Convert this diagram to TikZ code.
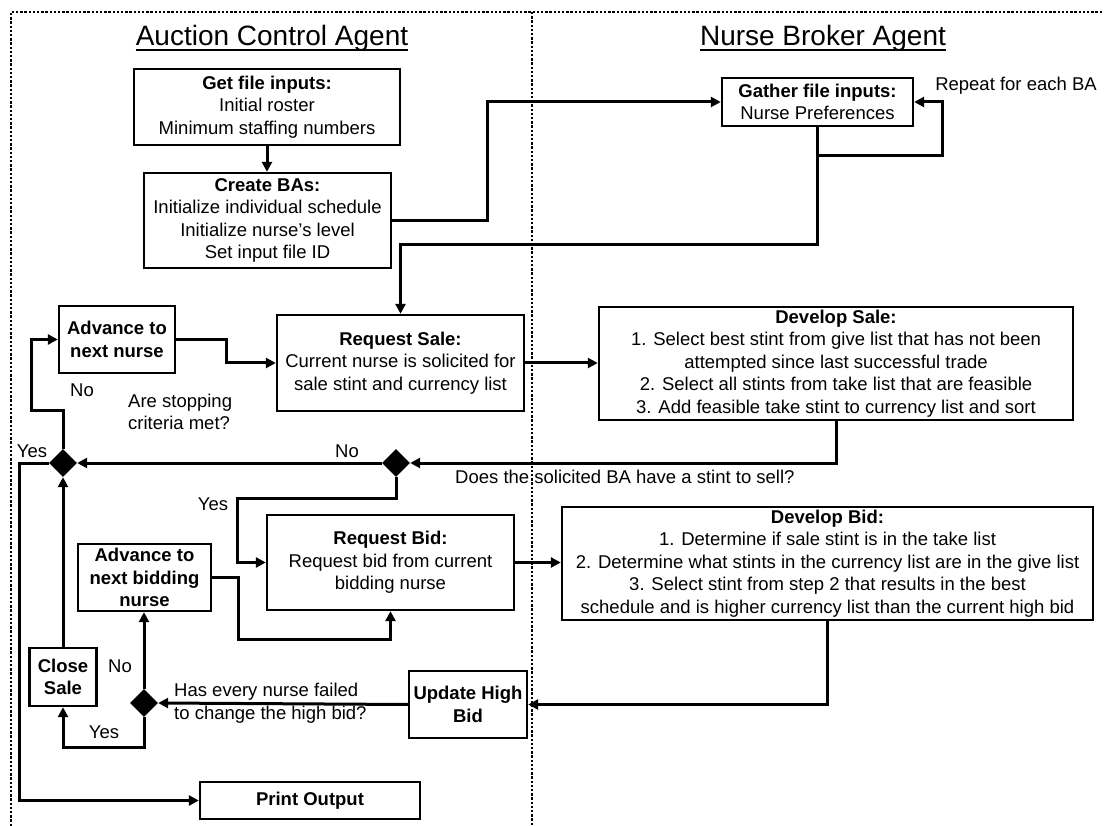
\documentclass[tikz,border=0pt]{standalone}
\usepackage{fontspec}
\setmainfont{Liberation Sans}
\usetikzlibrary{arrows.meta,shapes.geometric}
\newcommand\boxfont{\fontsize{18.5}{22.5}\selectfont}
\newcommand\headfont{\fontsize{28}{32}\selectfont}
\begin{document}
\begin{tikzpicture}[x=1pt,y=-1pt,
  box/.style={draw,line width=2.4pt,align=center,inner sep=0pt,font=\boxfont},
  lbl/.style={inner sep=0pt,font=\boxfont},
  diam/.style={diamond,fill=black,draw=none,minimum width=28pt,minimum height=28pt,inner sep=0pt},
  arr/.style={line width=3pt,line join=miter,-{Triangle[length=10pt,width=10pt]}},
  lane/.style={line width=2.6pt,dash pattern=on 2.4pt off 1.8pt}
]
\useasboundingbox (0,0) rectangle (1104,826);

% swimlane frame
\draw[lane] (11,826) -- (11,12) -- (1104,12);
\draw[lane] (532,12) -- (532,826);

% lane headings
\node[anchor=base,inner sep=0pt,font=\headfont] (ttlA) at (272,46) {Auction Control Agent};
\node[anchor=base,inner sep=0pt,font=\headfont] (ttlB) at (823,46) {Nurse Broker Agent};
\draw[line width=1.5pt] ([yshift=-4pt]ttlA.base west) -- ([yshift=-4pt]ttlA.base east);
\draw[line width=1.5pt] ([yshift=-4pt]ttlB.base west) -- ([yshift=-4pt]ttlB.base east);

% process boxes
\node[box,minimum width=266pt,minimum height=76pt] (getin) at (267,107)
  {\textbf{Get file inputs:}\\Initial roster\\Minimum staffing numbers};
\node[box,minimum width=247pt,minimum height=95pt] (create) at (267.5,220.5)
  {\textbf{Create BAs:}\\Initialize individual schedule\\Initialize nurse's level\\Set input file ID};
\node[box,minimum width=191pt,minimum height=48pt] (gather) at (817.5,102)
  {\textbf{Gather file inputs:}\\Nurse Preferences};
\node[box,minimum width=247pt,minimum height=96pt] (reqsale) at (400.5,363)
  {\textbf{Request Sale:}\\Current nurse is solicited for\\sale stint and currency list};
\node[box,minimum width=116pt,minimum height=67pt] (advnurse) at (117,339.5)
  {\textbf{Advance to}\\\textbf{next nurse}};
\node[box,minimum width=474pt,minimum height=113pt] (devsale) at (836,363.5)
  {\textbf{Develop Sale:}\\1. Select best stint from give list that has not been\\attempted since last successful trade\\2. Select all stints from take list that are feasible\\3. Add feasible take stint to currency list and sort};
\node[box,minimum width=247pt,minimum height=95pt] (reqbid) at (390.5,562.5)
  {\textbf{Request Bid:}\\Request bid from current\\bidding nurse};
\node[box,minimum width=531pt,minimum height=113pt] (devbid) at (827.5,563.5)
  {\textbf{Develop Bid:}\\1. Determine if sale stint is in the take list\\2. Determine what stints in the currency list are in the give list\\3. Select stint from step 2 that results in the best\\schedule and is higher currency list than the current high bid};
\node[box,minimum width=133pt,minimum height=67pt] (advbid) at (144.5,577.5)
  {\textbf{Advance to}\\\textbf{next bidding}\\\textbf{nurse}};
\node[box,minimum width=67pt,minimum height=58pt] (closesale) at (63,677)
  {\textbf{Close}\\\textbf{Sale}};
\node[box,minimum width=118pt,minimum height=67pt] (update) at (468,704.5)
  {\textbf{Update High}\\\textbf{Bid}};
\node[box,minimum width=220pt,minimum height=37pt] (print) at (310,800.5)
  {\textbf{Print Output}};

% decisions
\node[diam] (d1) at (63,463) {};
\node[diam] (d2) at (396,463) {};
\node[diam] (d3) at (144,703) {};

% connectors
\draw[arr] (getin.south) -- (getin.south |- create.north);
\draw[arr] (create.east) -- ++(95,0) |- (gather.west);
\draw[arr] (gather.south) -- ++(0,117) -| (reqsale.north);
\draw[arr] (gather.south) ++(0,28) -- ++(124.5,0) |- (gather.east);
\draw[arr] (advnurse.east) -- ++(50,0) |- (reqsale.west);
\draw[arr] (reqsale.east) -- (reqsale.east -| devsale.west);
\draw[arr] (devsale.south) |- (d2.east);
\draw[arr] (d2.west) -- (d1.east);
\draw[arr] (d1.north) -- ++(0,-38.5) -- ++(-32,0) |- (advnurse.west);
\draw[arr] (d1.west) -- ++(-29.5,0) |- (print.west);
\draw[arr] (d2.south) -- ++(0,21.5) -- ++(-159,0) |- (reqbid.west);
\draw[arr] (reqbid.east) -- (reqbid.east -| devbid.west);
\draw[arr] (devbid.south) |- (update.east);
\draw[arr] (update.west) -- (d3.east);
\draw[arr] (d3.north) -- (d3.north |- advbid.south);
\draw[arr] (advbid.east) -- ++(26,0) -- ++(0,61.5) -| (reqbid.south);
\draw[arr] (d3.south) -- ++(0,30.5) -| (closesale.south);
\draw[arr] (closesale.north) -- (d1.south);

% annotations
\node[lbl] (rep) at (1016,86) {Repeat for each BA};
\node[lbl] (no1) at (82,390) {No};
\node[lbl,anchor=west,align=left] (qstop) at (128,412) {Are stopping\\criteria met?};
\node[lbl] (yes1) at (32,451) {Yes};
\node[lbl] (no2) at (347,451) {No};
\node[lbl,anchor=west] (qsell) at (455,477) {Does the solicited BA have a stint to sell?};
\node[lbl] (yes2) at (213,504) {Yes};
\node[lbl] (no3) at (120,666) {No};
\node[lbl] (yes3) at (104,732) {Yes};
\node[lbl,anchor=west,align=left] (qfail) at (174,703) {Has every nurse failed\\to change the high bid?};
\end{tikzpicture}
\end{document}
